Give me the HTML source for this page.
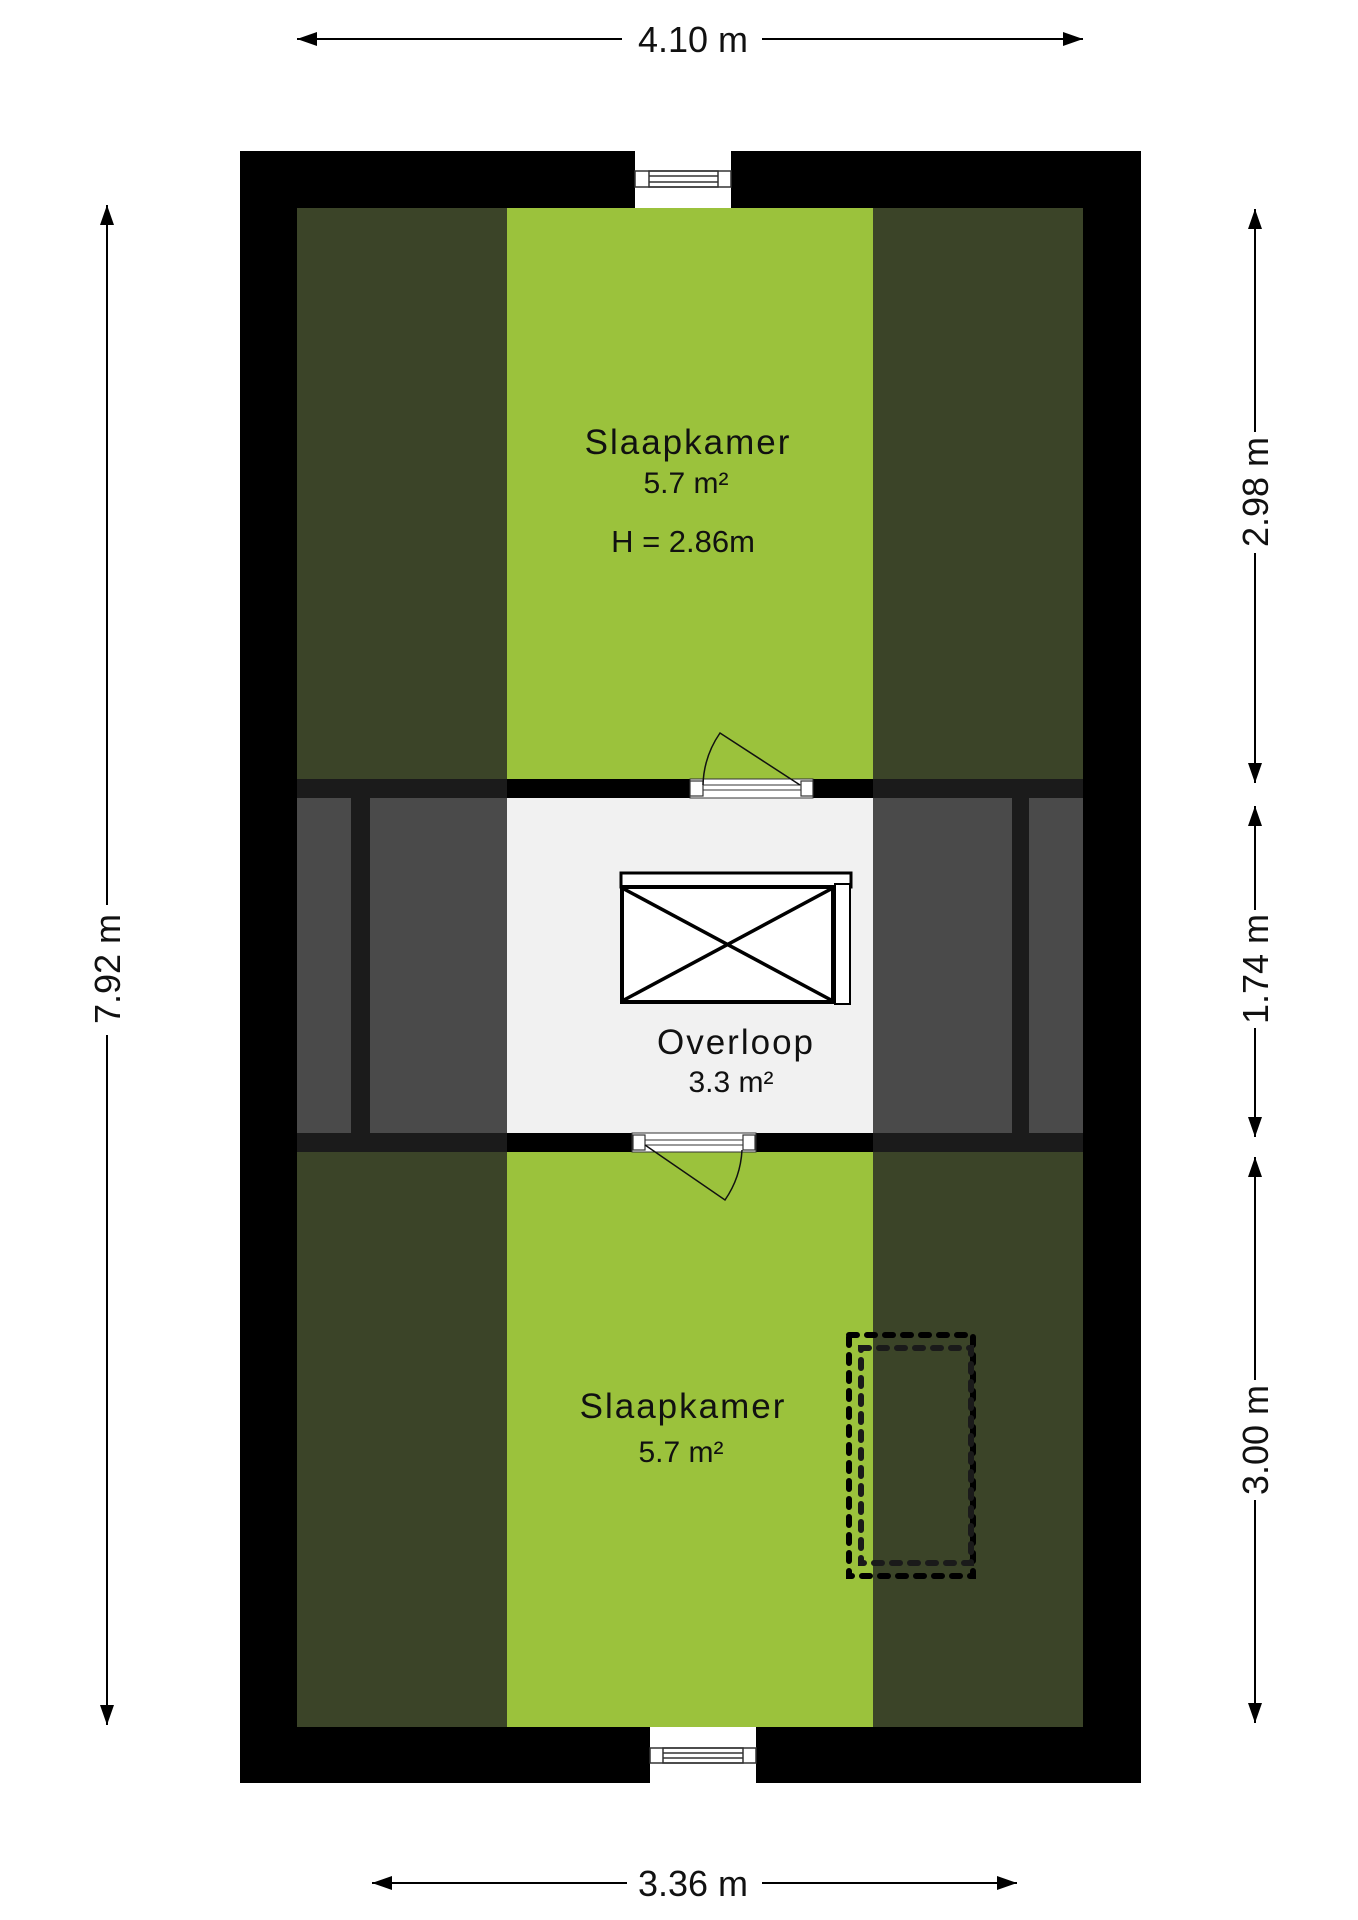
<!DOCTYPE html>
<html><head><meta charset="utf-8"><style>
html,body{margin:0;padding:0;background:#fff;}
svg{display:block;}
text{font-family:"Liberation Sans",sans-serif;fill:#111;}
</style></head><body>
<svg width="1358" height="1920" viewBox="0 0 1358 1920" xmlns="http://www.w3.org/2000/svg">
<defs>
<marker id="ah" viewBox="0 0 20 14" refX="20" refY="7" markerWidth="20" markerHeight="14" markerUnits="userSpaceOnUse" orient="auto-start-reverse"><path d="M0,0 L20,7 L0,14 Z" fill="#000"/></marker>
</defs>
<rect x="240" y="151" width="901" height="1632" fill="#000"/>
<rect x="297" y="208" width="786" height="1519" fill="#3b4428"/>
<rect x="507" y="208" width="366" height="1519" fill="#9bc23c"/>
<rect x="297" y="779" width="786" height="373" fill="#1b1b1b"/>
<rect x="297" y="798" width="54" height="335" fill="#4a4a4a"/>
<rect x="370" y="798" width="137" height="335" fill="#4a4a4a"/>
<rect x="873" y="798" width="139" height="335" fill="#4a4a4a"/>
<rect x="1029" y="798" width="54" height="335" fill="#4a4a4a"/>
<rect x="507" y="779" width="366" height="19" fill="#000"/>
<rect x="507" y="1133" width="366" height="19" fill="#000"/>
<rect x="507" y="798" width="366" height="335" fill="#f1f1f1"/>
<rect x="635" y="151" width="96" height="57" fill="#fff"/>
<rect x="635" y="171" width="96" height="16" fill="#fff" stroke="#333" stroke-width="1.5"/>
<rect x="649" y="171" width="69" height="16" fill="none" stroke="#333" stroke-width="1.5"/>
<line x1="649" y1="176" x2="718" y2="176" stroke="#333" stroke-width="1.5"/>
<line x1="649" y1="182" x2="718" y2="182" stroke="#333" stroke-width="1.5"/>
<rect x="650" y="1727" width="106" height="56" fill="#fff"/>
<rect x="650" y="1748" width="106" height="15" fill="#fff" stroke="#333" stroke-width="1.5"/>
<rect x="663" y="1748" width="80" height="15" fill="none" stroke="#333" stroke-width="1.5"/>
<line x1="663" y1="1753" x2="743" y2="1753" stroke="#333" stroke-width="1.5"/>
<line x1="663" y1="1758" x2="743" y2="1758" stroke="#333" stroke-width="1.5"/>
<rect x="690" y="779" width="123" height="19" fill="#fff" stroke="#333" stroke-width="1"/>
<rect x="690" y="781" width="13" height="15" fill="#fff" stroke="#333" stroke-width="1.2"/>
<rect x="801" y="781" width="12" height="15" fill="#fff" stroke="#333" stroke-width="1.2"/>
<line x1="703" y1="785" x2="801" y2="785" stroke="#333" stroke-width="1"/>
<line x1="703" y1="790" x2="801" y2="790" stroke="#333" stroke-width="1"/>
<path d="M800,785 L720,733 A96,96 0 0 0 703,785" fill="none" stroke="#111" stroke-width="1.5"/>
<rect x="632" y="1133" width="124" height="19" fill="#fff" stroke="#333" stroke-width="1"/>
<rect x="633" y="1135" width="12" height="15" fill="#fff" stroke="#333" stroke-width="1.2"/>
<rect x="743" y="1135" width="12" height="15" fill="#fff" stroke="#333" stroke-width="1.2"/>
<line x1="645" y1="1140" x2="743" y2="1140" stroke="#333" stroke-width="1"/>
<line x1="645" y1="1145" x2="743" y2="1145" stroke="#333" stroke-width="1"/>
<path d="M645,1145 L725,1200 A97,97 0 0 0 742,1150" fill="none" stroke="#111" stroke-width="1.5"/>
<rect x="621" y="873" width="230" height="14" fill="#fff" stroke="#000" stroke-width="3"/>
<rect x="622" y="887" width="211" height="115" fill="#fff" stroke="#000" stroke-width="4"/>
<rect x="835" y="884" width="15" height="120" fill="#fff" stroke="#000" stroke-width="2"/>
<line x1="624" y1="889" x2="831" y2="1000" stroke="#000" stroke-width="3.5"/>
<line x1="831" y1="889" x2="624" y2="1000" stroke="#000" stroke-width="3.5"/>
<g fill="none" stroke-width="6" stroke-linecap="round" stroke-dasharray="8 10">
<rect x="849" y="1335" width="124" height="241" stroke="#000"/>
<rect x="861" y="1348" width="110" height="215" stroke="#1a1a1a"/>
</g>
<text x="688" y="454" font-size="35" text-anchor="middle" letter-spacing="2">Slaapkamer</text>
<text x="686" y="493" font-size="30" text-anchor="middle">5.7 m²</text>
<text x="683" y="552" font-size="31" text-anchor="middle">H = 2.86m</text>
<text x="736" y="1054" font-size="35" text-anchor="middle" letter-spacing="2">Overloop</text>
<text x="731" y="1092" font-size="30" text-anchor="middle">3.3 m²</text>
<text x="683" y="1418" font-size="35" text-anchor="middle" letter-spacing="2">Slaapkamer</text>
<text x="681" y="1462" font-size="30" text-anchor="middle">5.7 m²</text>
<g stroke="#000" stroke-width="2" fill="none">
<line x1="297" y1="39" x2="622" y2="39" marker-start="url(#ah)"/>
<line x1="762" y1="39" x2="1083" y2="39" marker-end="url(#ah)"/>
<line x1="372" y1="1883" x2="627" y2="1883" marker-start="url(#ah)"/>
<line x1="762" y1="1883" x2="1017" y2="1883" marker-end="url(#ah)"/>
<line x1="107" y1="205" x2="107" y2="905" marker-start="url(#ah)"/>
<line x1="107" y1="1035" x2="107" y2="1725" marker-end="url(#ah)"/>
<line x1="1255" y1="209" x2="1255" y2="432" marker-start="url(#ah)"/>
<line x1="1255" y1="553" x2="1255" y2="783" marker-end="url(#ah)"/>
<line x1="1255" y1="806" x2="1255" y2="910" marker-start="url(#ah)"/>
<line x1="1255" y1="1028" x2="1255" y2="1137" marker-end="url(#ah)"/>
<line x1="1255" y1="1157" x2="1255" y2="1380" marker-start="url(#ah)"/>
<line x1="1255" y1="1500" x2="1255" y2="1723" marker-end="url(#ah)"/>
</g>
<text x="693" y="52" font-size="36" text-anchor="middle">4.10 m</text>
<text x="693" y="1896" font-size="36" text-anchor="middle">3.36 m</text>
<text transform="translate(120,969) rotate(-90)" font-size="36" text-anchor="middle">7.92 m</text>
<text transform="translate(1268,492) rotate(-90)" font-size="36" text-anchor="middle">2.98 m</text>
<text transform="translate(1268,969) rotate(-90)" font-size="36" text-anchor="middle">1.74 m</text>
<text transform="translate(1268,1440) rotate(-90)" font-size="36" text-anchor="middle">3.00 m</text>
</svg>
</body></html>
